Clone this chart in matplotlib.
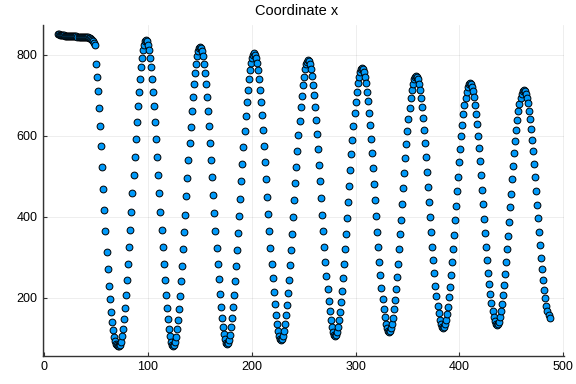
import matplotlib
matplotlib.use('Agg')
import matplotlib.pyplot as plt

# frame index (x axis) and tracked x coordinate (y axis)
frames = list(range(13, 488))

rest = [850, 850, 849, 849, 848, 848, 848, 847, 847, 847, 846, 846, 846, 846,
        845, 845, 845, 845, 845, 844, 844, 844, 844, 844, 844, 844, 844, 844,
        843, 843, 842, 841, 839, 836, 833, 829]

release = [824, 777, 746, 710, 669, 623, 574, 523, 469, 416, 365, 314, 271, 230,
           196, 165, 139, 121, 104, 93, 86, 82, 80, 80]

swings = [
    83, 91, 105, 123, 147, 175, 207, 243, 282, 324, 368, 412, 458, 504, 548, 592, 634, 673, 709, 741, 769, 793, 811, 825, 833, 836,
    833, 825, 811, 793, 769, 741, 709, 673, 634, 592, 548, 504, 458, 412, 368, 324, 282, 243, 207, 175, 147, 123, 105, 91, 83, 80,
    83, 91, 104, 122, 145, 173, 205, 240, 278, 319, 361, 405, 450, 495, 539, 581, 622, 660, 695, 727, 755, 778, 796, 809, 817, 820,
    817, 809, 796, 778, 755, 728, 696, 661, 624, 583, 541, 497, 453, 409, 365, 323, 282, 245, 210, 178, 151, 128, 110, 97, 89, 86,
    89, 96, 109, 127, 149, 176, 207, 241, 278, 317, 359, 401, 444, 488, 530, 572, 611, 648, 682, 713, 740, 762, 780, 793, 800, 803,
    800, 793, 780, 762, 740, 714, 684, 650, 614, 575, 534, 492, 449, 406, 364, 323, 284, 248, 214, 184, 158, 136, 118, 105, 98, 95,
    98, 105, 117, 135, 156, 182, 211, 244, 280, 318, 358, 399, 441, 482, 523, 563, 601, 637, 670, 699, 725, 746, 764, 776, 783, 786,
    784, 776, 764, 747, 726, 700, 671, 639, 604, 567, 527, 487, 446, 405, 365, 325, 288, 253, 221, 191, 166, 145, 128, 116, 108, 106,
    108, 116, 127, 144, 165, 189, 217, 249, 283, 319, 357, 397, 436, 476, 516, 554, 590, 624, 656, 684, 708, 729, 746, 757, 765, 767,
    765, 758, 746, 730, 709, 685, 657, 626, 592, 557, 519, 480, 441, 402, 363, 325, 289, 256, 225, 197, 173, 152, 136, 124, 117, 115,
    117, 124, 136, 151, 171, 195, 222, 252, 284, 319, 356, 393, 431, 470, 507, 544, 579, 611, 641, 668, 692, 712, 727, 739, 746, 748,
    746, 739, 728, 712, 693, 670, 643, 613, 581, 547, 511, 474, 436, 399, 362, 326, 292, 260, 230, 203, 180, 161, 145, 134, 127, 125,
    127, 134, 145, 160, 178, 201, 227, 255, 287, 320, 355, 391, 427, 463, 499, 534, 567, 599, 627, 653, 676, 694, 709, 720, 727, 729,
    727, 720, 710, 695, 676, 654, 629, 600, 569, 537, 502, 467, 431, 395, 360, 325, 293, 262, 233, 208, 186, 167, 152, 142, 135, 133,
    135, 141, 152, 166, 184, 206, 231, 258, 288, 320, 353, 388, 423, 457, 492, 525, 557, 587, 614, 639, 661, 679, 693, 704, 710, 712,
    710, 704, 694, 680, 662, 641, 617, 590, 561, 530, 497, 464, 430, 396, 363, 330, 299, 270, 243, 219, 198, 180, 166, 156, 150,
]

coord_x = rest + release + swings

xticks = [0, 100, 200, 300, 400, 500]
yticks = [200, 400, 600, 800]

plt.rcParams['font.family'] = ['Liberation Sans', 'DejaVu Sans']

fig = plt.figure(figsize=(5.76, 3.84), dpi=100)
ax = fig.add_axes([0.0747, 0.074, 0.905, 0.8606])

ax.scatter(frames, coord_x, s=24, color='#009AFA', edgecolors='black',
           linewidths=0.7, zorder=3)

ax.set_xlim(-1.2, 501.2)
ax.set_ylim(57, 873)
ax.set_xticks(xticks)
ax.set_yticks(yticks)
ax.grid(True, color='black', alpha=0.08, linewidth=0.6)
ax.set_axisbelow(True)

for side in ['top', 'right']:
    ax.spines[side].set_visible(False)
for side in ['left', 'bottom']:
    ax.spines[side].set_color('#333333')
    ax.spines[side].set_linewidth(1.0)

ax.tick_params(direction='in', length=3, width=0.8, labelsize=9, colors='#333333',
               labelcolor='black', pad=4)

ax.set_title('Coordinate x', fontsize=10.5, x=0.487, pad=7)

fig.savefig('out.png', dpi=100)
